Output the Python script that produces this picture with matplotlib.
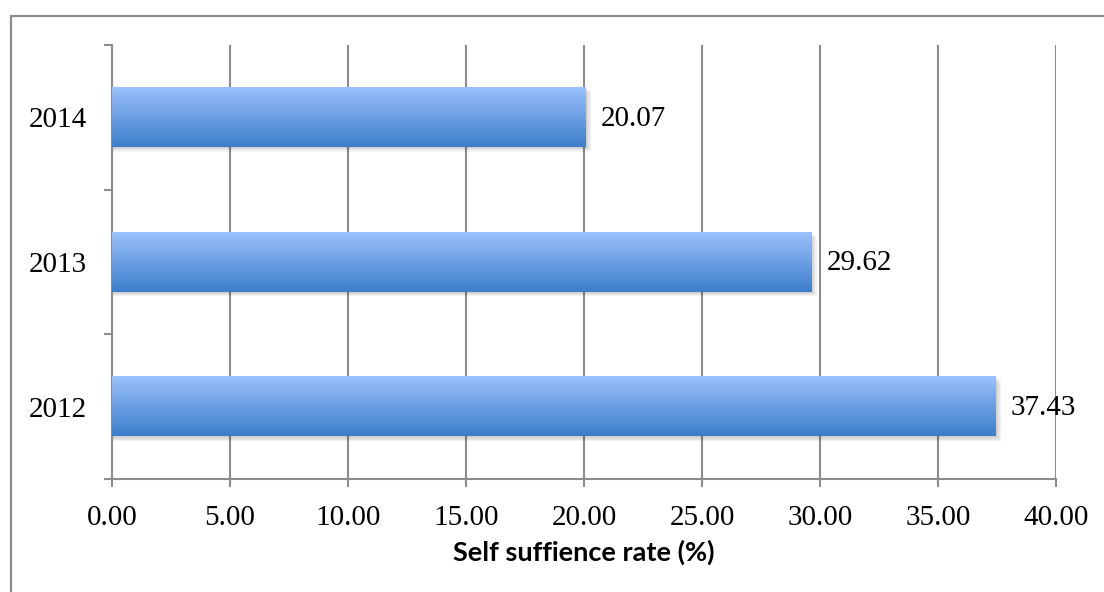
import numpy as np
import matplotlib
matplotlib.use("Agg")
import matplotlib.pyplot as plt
from matplotlib.patches import Rectangle
from matplotlib.ticker import FixedLocator

years = ["2012", "2013", "2014"]
rates = [37.43, 29.62, 20.07]
x_ticks = [0, 5, 10, 15, 20, 25, 30, 35, 40]
x_label = "Self suffience rate (%)"

W, H = 1104, 592
fig = plt.figure(figsize=(W / 100, H / 100), dpi=100)
fig.patch.set_facecolor("white")

# outer chart frame (open on the right and bottom)
frame = Rectangle((11 / W, -0.1), 1.2, 1 - 16 / H + 0.1, transform=fig.transFigure,
                  fill=False, edgecolor="#8c8c8c", linewidth=1.6, zorder=0)
fig.patches.append(frame)

ax = fig.add_axes([112 / W, 1 - 479 / H, (1056 - 112) / W, (479 - 45) / H])
ax.set_xlim(0, 40)
ax.set_ylim(-0.5, len(years) - 0.5)

grid_c = "#8c8c8c"
for s in ["top", "right"]:
    ax.spines[s].set_visible(False)
for s in ["left", "bottom"]:
    ax.spines[s].set_color(grid_c)
    ax.spines[s].set_linewidth(1.5)

ax.xaxis.set_major_locator(FixedLocator(x_ticks))
ax.set_xticklabels([f"{v:.2f}" for v in x_ticks])
ax.grid(axis="x", color=grid_c, linewidth=1.5, zorder=0)
ax.set_axisbelow(True)

ax.set_yticks(range(len(years)))
ax.set_yticklabels(years)
ax.set_yticks(np.arange(-0.5, len(years), 1.0), minor=True)
ax.tick_params(axis="y", which="major", length=0, pad=18)
ax.tick_params(axis="y", which="minor", length=6, width=1.5, color=grid_c, direction="out")
ax.tick_params(axis="x", which="major", length=6, width=1.5, color=grid_c, direction="out", pad=13)

serif = ["Liberation Serif", "DejaVu Serif"]
for lbl in ax.get_xticklabels() + ax.get_yticklabels():
    lbl.set_fontfamily(serif)
    lbl.set_fontsize(21)

ax.set_xlabel(x_label, fontsize=19.5, fontweight="bold", family=["Lato", "DejaVu Sans"], labelpad=6)

# vertical gradient for the bars
top_c = np.array([0x9a, 0xc1, 0xfc]) / 255
bot_c = np.array([0x3d, 0x7d, 0xcb]) / 255
t = np.linspace(0, 1, 256)[:, None]
grad = (top_c[None, :] * (1 - t) + bot_c[None, :] * t)[:, None, :]

bar_h = 0.41
bars = ax.barh(range(len(years)), rates, height=bar_h, color="none", zorder=3)
for i, (bar, v) in enumerate(zip(bars, rates)):
    y0 = i - bar_h / 2
    y1 = i + bar_h / 2
    # soft drop shadow
    for k, a in enumerate([0.05, 0.05, 0.05, 0.05]):
        dx = 0.06 + 0.06 * k
        dy = 0.008 + 0.008 * k
        ax.add_patch(Rectangle((0, y0 - dy), v + dx, bar_h, facecolor="black",
                               edgecolor="none", alpha=a, zorder=2))
    ax.imshow(grad, extent=(0, v, y0, y1), aspect="auto", origin="upper",
              interpolation="bilinear", zorder=3)
    ax.annotate(f"{v:.2f}", xy=(v, i), xytext=(11, -1), textcoords="offset points",
                va="center", ha="left", fontsize=21, family=serif, zorder=4)

ax.set_xlim(0, 40)
ax.set_ylim(-0.5, len(years) - 0.5)

fig.savefig("out.png", dpi=100, facecolor="white")
